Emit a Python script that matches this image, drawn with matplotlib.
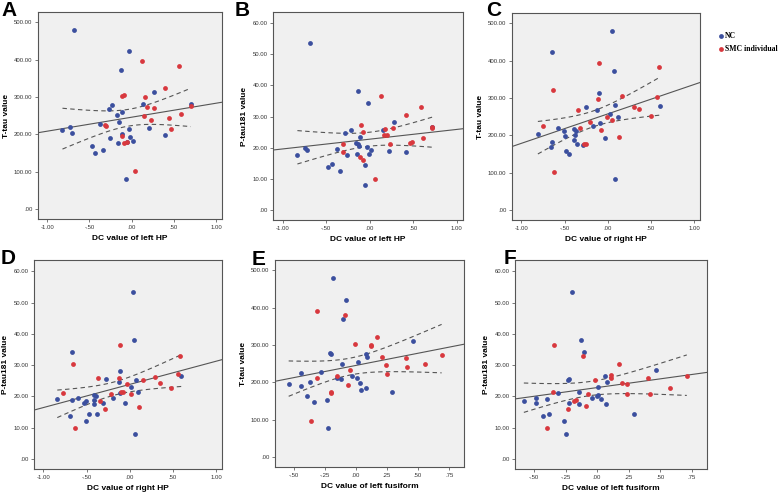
import numpy as np
import matplotlib
matplotlib.use("Agg")
import matplotlib.pyplot as plt
from matplotlib.ticker import FuncFormatter

# panel A: DC of left HP vs T-tau
a_nc_x = [-0.68, -0.03, -0.13, -0.82, -0.73, -0.71, -0.38, -0.47, -0.43, -0.34, -0.27, -0.23, -0.26, -0.17,
          -0.12, -0.15, -0.12, -0.16, -0.07, -0.05, -0.03, -0.02, 0.02, 0.13, 0.26, 0.20, 0.40, 0.70]
a_nc_y = [480, 423, 372, 213, 221, 205, 229, 168, 151, 157, 269, 278, 191, 251,
          259, 233, 202, 176, 82, 179, 214, 194, 183, 282, 314, 218, 199, 280]
a_smc_x = [0.12, 0.56, -0.32, -0.31, -0.11, -0.09, -0.12, -0.09, -0.06, 0.04, 0.16, 0.18, 0.26, 0.14,
           0.23, 0.39, 0.44, 0.46, 0.59, 0.70]
a_smc_y = [395, 384, 226, 222, 302, 305, 197, 176, 179, 103, 299, 272, 270, 249,
           238, 323, 243, 215, 254, 276]

# panel B: DC of left HP vs P-tau181
b_nc_x = [-0.69, -0.83, -0.74, -0.72, -0.48, -0.43, -0.38, -0.34, -0.28, -0.26, -0.22, -0.16, -0.14, -0.13,
          -0.12, -0.11, -0.15, -0.06, -0.05, -0.03, -0.02, -0.01, 0.02, 0.15, 0.22, 0.28, 0.42, 0.72]
b_nc_y = [53.6, 17.7, 19.8, 19.4, 13.9, 14.7, 19.5, 12.4, 24.6, 17.7, 25.8, 21.6, 21.1, 38.3,
          20.5, 23.3, 17.9, 8.2, 14.4, 20.3, 34.4, 18.1, 19.2, 25.6, 19.0, 28.4, 18.5, 26.6]
b_smc_x = [0.13, 0.59, 0.42, -0.31, -0.31, -0.10, -0.08, -0.11, -0.08, 0.06, 0.16, 0.18, 0.20, 0.27,
           0.23, 0.46, 0.48, 0.61, 0.71, 0.72]
b_smc_y = [36.5, 33.2, 30.4, 21.1, 18.7, 27.2, 25.2, 17.0, 16.2, 10.1, 24.2, 26.0, 24.2, 26.3,
           21.1, 21.4, 21.8, 23.1, 26.8, 26.3]

# panel C: DC of right HP vs T-tau
c_nc_x = [0.05, -0.65, 0.07, -0.81, -0.65, -0.66, -0.58, -0.51, -0.49, -0.48, -0.45, -0.39, -0.37, -0.38,
          -0.39, -0.36, -0.29, -0.25, -0.17, -0.12, -0.10, -0.09, -0.03, 0.03, 0.08, 0.12, 0.08, 0.61]
c_nc_y = [480, 422, 371, 204, 183, 168, 219, 212, 199, 157, 150, 217, 213, 201,
          188, 178, 175, 277, 226, 269, 313, 233, 194, 258, 282, 250, 83, 279]
c_smc_x = [-0.10, 0.59, -0.64, -0.62, -0.75, -0.35, -0.32, -0.27, -0.25, -0.20, -0.11, -0.08, -0.01, 0.05,
           0.13, 0.16, 0.31, 0.36, 0.50, 0.57]
c_smc_y = [394, 383, 322, 101, 225, 269, 221, 176, 176, 237, 298, 215, 249, 242,
           195, 305, 275, 271, 253, 302]

# panel D: DC of right HP vs P-tau181
d_nc_x = [0.04, 0.05, -0.67, -0.84, -0.67, -0.60, -0.69, -0.53, -0.51, -0.51, -0.47, -0.41, -0.39, -0.41,
          -0.41, -0.38, -0.31, -0.27, -0.19, -0.13, -0.11, -0.11, -0.05, 0.01, 0.07, 0.10, 0.06, 0.60]
d_nc_y = [53.4, 38.0, 34.2, 19.2, 19.0, 19.5, 13.7, 17.8, 18.4, 12.3, 14.4, 20.5, 20.1, 18.7,
          17.5, 14.3, 17.9, 25.6, 19.4, 24.6, 28.2, 21.2, 18.0, 23.1, 25.4, 21.5, 8.0, 26.6]
d_smc_x = [-0.11, 0.58, -0.66, -0.64, -0.77, -0.37, -0.34, -0.29, -0.22, -0.13, -0.10, -0.03, 0.02, 0.11,
           0.15, 0.29, 0.35, 0.48, 0.56, -0.08]
d_smc_y = [36.4, 33.0, 30.3, 10.0, 21.0, 26.0, 18.6, 16.0, 20.9, 25.8, 21.4, 24.1, 20.7, 16.7,
           25.1, 26.3, 24.2, 22.8, 27.2, 21.3]

# panel E: DC of left fusiform vs T-tau
e_nc_x = [-0.18, -0.08, -0.10, -0.54, -0.44, -0.44, -0.39, -0.37, -0.34, -0.28, -0.23, -0.22, -0.21, -0.20,
          -0.15, -0.12, -0.11, -0.03, 0.01, 0.03, 0.02, 0.04, 0.08, 0.09, 0.08, 0.29, 0.46]
e_nc_y = [478, 420, 369, 196, 224, 190, 163, 201, 147, 229, 153, 79, 279, 276,
          212, 209, 248, 217, 211, 199, 255, 179, 276, 267, 186, 175, 311]
e_smc_x = [-0.31, -0.09, -0.36, -0.31, -0.15, -0.20, -0.20, -0.06, -0.05, -0.01, 0.12, 0.12, 0.17, 0.21,
           0.24, 0.25, 0.40, 0.41, 0.56, 0.69]
e_smc_y = [392, 381, 98, 212, 218, 175, 173, 192, 234, 302, 299, 296, 321, 268,
           246, 222, 266, 240, 249, 272]

# panel F: DC of left fusiform vs P-tau181
f_nc_x = [-0.20, -0.13, -0.10, -0.58, -0.48, -0.48, -0.40, -0.43, -0.38, -0.31, -0.26, -0.25, -0.23, -0.22,
          -0.22, -0.14, -0.14, -0.04, 0.00, 0.01, 0.01, 0.03, 0.06, 0.08, 0.07, 0.29, 0.47]
f_nc_y = [53.4, 38.0, 34.2, 18.4, 19.4, 18.0, 19.2, 13.7, 14.4, 21.2, 12.3, 8.0, 25.3, 25.6,
          17.8, 21.4, 17.7, 19.6, 20.2, 20.6, 23.1, 19.1, 26.6, 24.6, 17.5, 14.3, 28.3]
f_smc_x = [-0.34, -0.11, -0.40, -0.35, -0.23, -0.18, -0.17, -0.09, -0.07, -0.02, 0.11, 0.11, 0.17, 0.20,
           0.24, 0.24, 0.40, 0.42, 0.58, 0.71]
f_smc_y = [36.4, 33.0, 10.0, 21.4, 16.0, 18.6, 18.9, 16.8, 20.9, 25.1, 27.0, 25.9, 30.3, 24.3,
           24.1, 20.9, 26.0, 20.7, 22.8, 26.4]

hp_ticks = [-1.0, -0.5, 0.0, 0.5, 1.0]
fus_ticks = [-0.5, -0.25, 0.0, 0.25, 0.5, 0.75]
ttau_ticks = [0, 100, 200, 300, 400, 500]
ptau_ticks = [0, 10, 20, 30, 40, 50, 60]

BLUE = '#3b4f9e'
RED = '#d8383e'
BG = '#f0f0f0'
W, H = 778, 494


def spss_fmt(v, pos):
    s = '%.2f' % v
    if s.startswith('0.'):
        s = s[1:]
    elif s.startswith('-0.'):
        s = '-' + s[2:]
    if s == '-.00':
        s = '.00'
    return s


def panel(box, letter, letter_xy, nc_x, nc_y, smc_x, smc_y, xlim, ylim, xticks, yticks, xlabel, ylabel):
    # box is (left, top, right, bottom) in pixels
    x0, y0, x1, y1 = box
    ax = fig.add_axes([x0 / W, 1 - y1 / H, (x1 - x0) / W, (y1 - y0) / H])
    ax.set_facecolor(BG)
    ax.scatter(nc_x, nc_y, s=12, color=BLUE, zorder=3, linewidths=0)
    ax.scatter(smc_x, smc_y, s=12, color=RED, zorder=3, linewidths=0)

    # linear fit with 95% CI of the mean, on all subjects
    x = np.array(nc_x + smc_x)
    y = np.array(nc_y + smc_y)
    n = len(x)
    b, a = np.polyfit(x, y, 1)
    resid = y - (a + b * x)
    s = np.sqrt(np.sum(resid ** 2) / (n - 2))
    xm = x.mean()
    sxx = np.sum((x - xm) ** 2)
    xs = np.linspace(xlim[0], xlim[1], 50)
    ax.plot(xs, a + b * xs, color='#555555', lw=0.8, zorder=2)
    xc = np.linspace(x.min(), x.max(), 80)
    se = s * np.sqrt(1.0 / n + (xc - xm) ** 2 / sxx)
    ax.plot(xc, a + b * xc + 2.01 * se, color='#555555', lw=0.8, ls=(0, (4, 3)), zorder=2)
    ax.plot(xc, a + b * xc - 2.01 * se, color='#555555', lw=0.8, ls=(0, (4, 3)), zorder=2)

    ax.set_xlim(xlim)
    ax.set_ylim(ylim)
    ax.set_xticks(xticks)
    ax.set_yticks(yticks)
    ax.xaxis.set_major_formatter(FuncFormatter(spss_fmt))
    ax.yaxis.set_major_formatter(FuncFormatter(spss_fmt))
    ax.tick_params(labelsize=4.3, length=2.5, width=0.5, pad=1.5, colors='#444444', labelcolor='#333333')
    for sp in ax.spines.values():
        sp.set_color('#555555')
        sp.set_linewidth(0.8)
    ax.set_xlabel(xlabel, fontsize=6, fontweight='bold', labelpad=4)
    ax.set_ylabel(ylabel, fontsize=6, fontweight='bold', labelpad=3)
    fig.text(letter_xy[0] / W, 1 - letter_xy[1] / H, letter, fontsize=15, fontweight='bold',
             va='top', ha='left')
    return ax


plt.rcParams['font.family'] = ['Liberation Sans', 'DejaVu Sans']
fig = plt.figure(figsize=(W / 100, H / 100), dpi=100)

hp_xlim = (-1.11, 1.07)
fus_xlim = (-0.65, 0.87)
ttau_ylim = (-26, 527)
ptau_ylim = (-3.2, 63.6)

panel((38, 12, 222, 219), 'A', (1, 1), a_nc_x, a_nc_y, a_smc_x, a_smc_y,
      hp_xlim, ttau_ylim, hp_ticks, ttau_ticks, 'DC value of left HP', 'T-tau value')
panel((273, 12, 463, 220), 'B', (235, 1), b_nc_x, b_nc_y, b_smc_x, b_smc_y,
      hp_xlim, ptau_ylim, hp_ticks, ptau_ticks, 'DC value of left HP', 'P-tau181 value')
panel((512, 13, 700, 220), 'C', (486, 1), c_nc_x, c_nc_y, c_smc_x, c_smc_y,
      hp_xlim, ttau_ylim, hp_ticks, ttau_ticks, 'DC value of right HP', 'T-tau value')
panel((34, 260, 222, 469), 'D', (1, 249), d_nc_x, d_nc_y, d_smc_x, d_smc_y,
      hp_xlim, ptau_ylim, hp_ticks, ptau_ticks, 'DC value of right HP', 'P-tau181 value')
panel((275, 260, 464, 467), 'E', (252, 250), e_nc_x, e_nc_y, e_smc_x, e_smc_y,
      fus_xlim, ttau_ylim, fus_ticks, ttau_ticks, 'DC value of left fusiform', 'T-tau value')
panel((515, 260, 707, 469), 'F', (504, 249), f_nc_x, f_nc_y, f_smc_x, f_smc_y,
      fus_xlim, ptau_ylim, fus_ticks, ptau_ticks, 'DC value of left fusiform', 'P-tau181 value')

# legend to the right of panel C
fig.text(725 / W, 1 - 36 / H, 'NC', fontsize=5.6, fontweight='bold', family='Liberation Serif', va='center')
fig.text(725 / W, 1 - 49 / H, 'SMC individual', fontsize=5.6, fontweight='bold', family='Liberation Serif',
         va='center')
lax = fig.add_axes([712 / W, 1 - 55 / H, 18 / W, 25 / H])
lax.set_xlim(0, 1)
lax.set_ylim(0, 1)
lax.axis('off')
lax.scatter([0.5], [(55 - 36) / 25], s=12, color=BLUE, linewidths=0, clip_on=False)
lax.scatter([0.5], [(55 - 49) / 25], s=12, color=RED, linewidths=0, clip_on=False)

fig.savefig('out.png', dpi=100)
